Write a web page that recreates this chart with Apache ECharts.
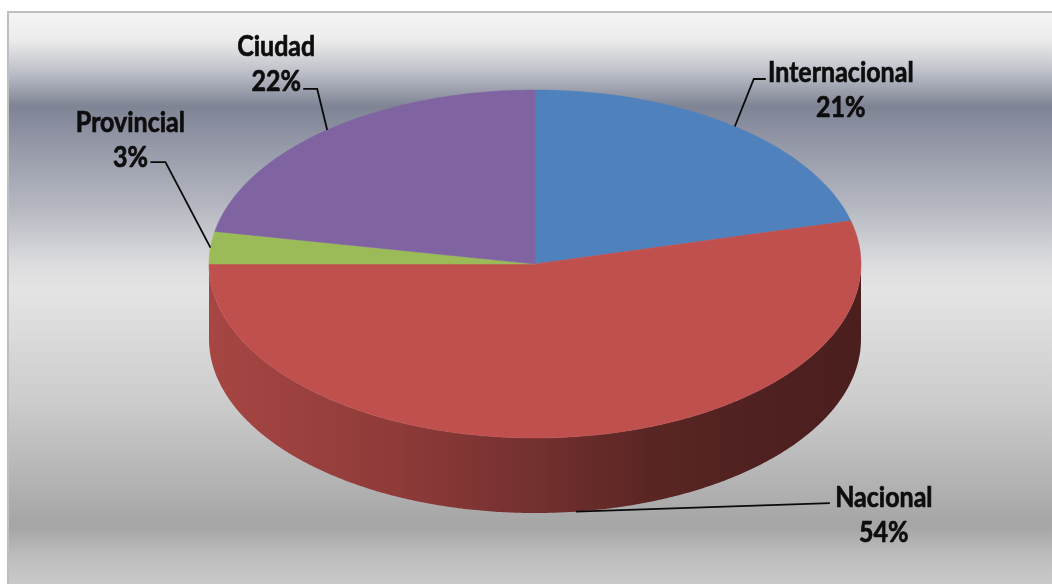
<!DOCTYPE html>
<html><head><meta charset="utf-8">
<script src="https://cdn.jsdelivr.net/npm/echarts@6/dist/echarts.min.js"></script>
<style>html,body{margin:0;padding:0;background:#fff}#c{width:1052px;height:584px}</style>
</head><body><div id="c"></div>
<script>
// ---- data ----
const categories = ['Internacional', 'Nacional', 'Provincial', 'Ciudad'];
const values = [21, 54, 3, 22];

// ---- styles / layout ----
const colors = ['#4F81BD', '#C0504D', '#9BBB59', '#8064A2'];
const CX = 535, CY = 264, RX = 326, RY = 174, DEPTH = 75;
// label layout, relative to leader anchor: [elbowDx, elbowDy, endDx, endDy, textDx, textDy]
const labelLayout = [
  [19, -47.5, 31, -47.5, 106, -36.5],
  [254, -8.6, 254, -8.6, 308, 4],
  [-45, -85.6, -60, -85.6, -80, -107.6],
  [-10, -41, -24, -41, -51, -65.5]
];
const sideShade = [[0, 0.87], [0.29, 0.74], [0.5, 0.6], [0.675, 0.47], [0.84, 0.41], [1, 0.39]];

function shade(hex, f) {
  const n = parseInt(hex.slice(1), 16);
  const r = Math.round(((n >> 16) & 255) * f), g = Math.round(((n >> 8) & 255) * f), b = Math.round((n & 255) * f);
  return 'rgb(' + r + ',' + g + ',' + b + ')';
}

const total = values.reduce((a, b) => a + b, 0);
function pt(deg, dy) {
  const r = deg * Math.PI / 180;
  return [CX + RX * Math.sin(r), CY - RY * Math.cos(r) + (dy || 0)];
}

const chart = echarts.init(document.getElementById('c'), null, {renderer: 'canvas'});
chart.setOption({
  animation: false,
  graphic: [{
    type: 'rect', z: -100, silent: true,
    shape: {x: 8, y: 12, width: 1100, height: 600},
    style: {
      stroke: '#bfbfbf', lineWidth: 2,
      fill: {type: 'linear', x: 0, y: 0, x2: 0, y2: 1, colorStops: [
        {offset: 0, color: '#f5f5f5'},
        {offset: 0.048, color: '#ececec'},
        {offset: 0.099, color: '#bfc2ca'},
        {offset: 0.158, color: '#7f8495'},
        {offset: 0.235, color: '#989cab'},
        {offset: 0.32, color: '#b3b6bf'},
        {offset: 0.42, color: '#dcdcdf'},
        {offset: 0.463, color: '#e4e4e4'},
        {offset: 0.643, color: '#cdcdcd'},
        {offset: 0.745, color: '#bababa'},
        {offset: 0.855, color: '#a5a5a5'},
        {offset: 0.906, color: '#bdbdbd'},
        {offset: 0.973, color: '#cfcfcf'},
        {offset: 1, color: '#d2d2d2'}
      ]}
    }
  }],
  series: [{
    type: 'custom',
    coordinateSystem: 'none',
    silent: true,
    data: values.map((v, i) => ({name: categories[i], value: [v]})),
    renderItem: function (params, api) {
      const i = params.dataIndex;
      const v = api.value(0);
      let start = 0;
      for (let j = 0; j < i; j++) start += values[j];
      const a0 = start / total * 360, a1 = (start + v) / total * 360;
      const children = [];
      // side wall (visible front half: 90..270)
      const s0 = Math.max(a0, 90), s1 = Math.min(a1, 270);
      if (s1 > s0) {
        const pts = [];
        for (let d = s0; d < s1; d += 0.5) pts.push(pt(d));
        pts.push(pt(s1));
        for (let d = s1; d > s0; d -= 0.5) pts.push(pt(d, DEPTH));
        pts.push(pt(s0, DEPTH));
        children.push({
          type: 'polygon', shape: {points: pts},
          style: {fill: {type: 'linear', global: true, x: CX - RX, y: 0, x2: CX + RX, y2: 0,
            colorStops: sideShade.map(s => ({offset: s[0], color: shade(colors[i], s[1])}))}}
        });
      }
      // top face
      const tp = [[CX, CY]];
      for (let d = a0; d < a1; d += 0.5) tp.push(pt(d));
      tp.push(pt(a1));
      children.push({type: 'polygon', shape: {points: tp}, style: {fill: colors[i], stroke: colors[i], lineWidth: 0.5}});
      // leader line + label
      const mid = (a0 + a1) / 2;
      const front = mid > 90 && mid < 270;
      const anc = pt(mid, front ? DEPTH : 0);
      const L = labelLayout[i];
      children.push({
        type: 'polyline',
        shape: {points: [anc, [anc[0] + L[0], anc[1] + L[1]], [anc[0] + L[2], anc[1] + L[3]]]},
        style: {stroke: '#0a0a0a', lineWidth: 1.8, fill: null}
      });
      const pct = Math.round(v / total * 100);
      children.push({
        type: 'text', x: anc[0] + L[4], y: anc[1] + L[5], scaleY: 1.13,
        style: {text: categories[i] + '\n' + pct + '%', fill: '#0d0d0d',
          stroke: '#0d0d0d', lineWidth: 0.6,
          fontFamily: 'Lato', fontWeight: 'bold', fontSize: 25, lineHeight: 31,
          align: 'center', verticalAlign: 'middle'}
      });
      return {type: 'group', children: children};
    }
  }]
});
</script></body></html>
